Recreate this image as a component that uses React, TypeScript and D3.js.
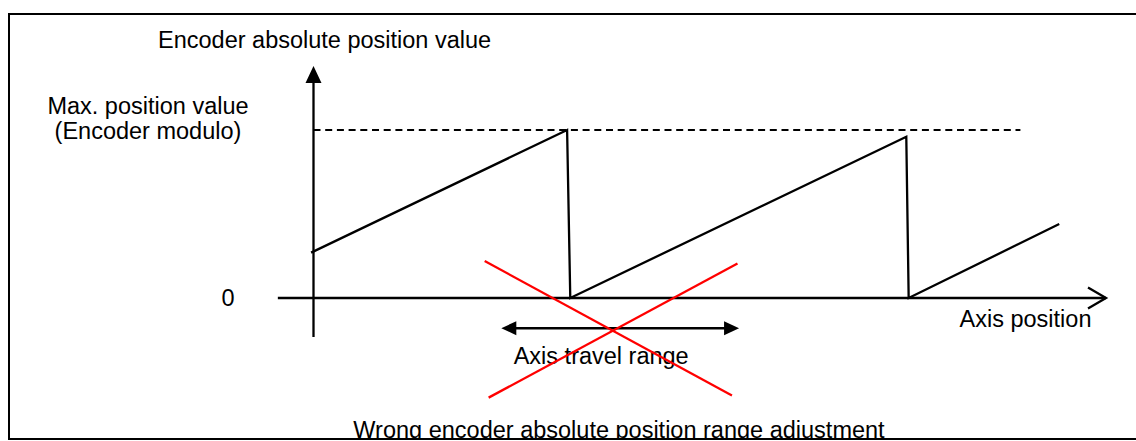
import * as d3 from "d3";

// axis position units (x) and encoder value as fraction of modulo (y)
const sawX = [-3, 320, 324, 748, 751, 941];
const sawY = [0.27, 1.0, 0, 0.96, 0, 0.44];

const maxLineX = [0, 892];
const maxValue = 1;

const xAxisRange = [-45, 1000];
const yAxisRange = [-0.232, 1.381];

const travelRange = [237, 537];
const travelLevel = -0.18;

const crossA = [
  [216, 0.22],
  [528, -0.58],
];
const crossB = [
  [221, -0.593],
  [535, 0.206],
];

const TEXTS = {
  yTitle: "Encoder absolute position value",
  maxLine1: "Max. position value",
  maxLine2: "(Encoder modulo)",
  zero: "0",
  xTitle: "Axis position",
  travel: "Axis travel range",
  caption: "Wrong encoder absolute position range adjustment",
};

const W = 1136;
const H = 441;
const FONT = "'Liberation Sans', Arial, sans-serif";
const FS = 23.5;
const LW = 2.3;

const ORIGIN = { x: 313.5, y: 298 };

const xScale = d3
  .scaleLinear()
  .domain([0, 1000])
  .range([ORIGIN.x, 1106]);

const yScale = d3
  .scaleLinear()
  .domain([0, 1])
  .range([ORIGIN.y, 130]);

export default function App() {
  const line = d3
    .line<number>()
    .x((d) => xScale(d))
    .y((_, i) => yScale(sawY[i]));
  const sawPath = line(sawX) ?? "";

  const yTop = yScale(yAxisRange[1]);
  const xTip = xScale(xAxisRange[1]);
  const tY = yScale(travelLevel);
  const tx0 = xScale(travelRange[0]);
  const tx1 = xScale(travelRange[1]);

  const headLen = 15;
  const headHalf = 7;

  return (
    <svg
      width={W}
      height={H}
      style={{ position: "absolute", left: 0, top: 0, background: "#fff" }}
      xmlns="http://www.w3.org/2000/svg"
    >
      <rect x={0} y={0} width={W} height={H} fill="#fff" />

      {/* titles */}
      <text x={158} y={48} fontSize={FS} fontFamily={FONT} fill="#000">
        {TEXTS.yTitle}
      </text>
      <text x={148} y={114} fontSize={FS} fontFamily={FONT} textAnchor="middle" fill="#000">
        {TEXTS.maxLine1}
      </text>
      <text x={148} y={139} fontSize={FS} fontFamily={FONT} textAnchor="middle" fill="#000">
        {TEXTS.maxLine2}
      </text>
      <text x={228} y={yScale(0) + 8} fontSize={FS} fontFamily={FONT} textAnchor="middle" fill="#000">
        {TEXTS.zero}
      </text>
      <text x={1025.5} y={327} fontSize={FS} fontFamily={FONT} textAnchor="middle" fill="#000">
        {TEXTS.xTitle}
      </text>
      <text x={(tx0 + tx1) / 2 - 19} y={364} fontSize={FS} fontFamily={FONT} textAnchor="middle" fill="#000">
        {TEXTS.travel}
      </text>
      <text x={619} y={438} fontSize={FS} fontFamily={FONT} textAnchor="middle" fill="#000">
        {TEXTS.caption}
      </text>

      {/* max value dashed line */}
      <line
        x1={xScale(maxLineX[0])}
        x2={xScale(maxLineX[1])}
        y1={yScale(maxValue)}
        y2={yScale(maxValue)}
        stroke="#000"
        strokeWidth={1.8}
        strokeDasharray="7,4.7"
      />

      {/* y axis */}
      <line
        x1={ORIGIN.x}
        x2={ORIGIN.x}
        y1={yScale(yAxisRange[0])}
        y2={yTop + 14}
        stroke="#000"
        strokeWidth={LW}
      />
      <path
        d={`M${ORIGIN.x},${yTop} L${ORIGIN.x - 8},${yTop + 17} L${ORIGIN.x + 8},${yTop + 17} Z`}
        fill="#000"
      />

      {/* x axis */}
      <line
        x1={xScale(xAxisRange[0])}
        x2={xTip}
        y1={ORIGIN.y}
        y2={ORIGIN.y}
        stroke="#000"
        strokeWidth={LW}
      />
      <path
        d={`M${xTip - 18},${ORIGIN.y - 10.5} L${xTip},${ORIGIN.y} L${xTip - 18},${ORIGIN.y + 10.5}`}
        fill="none"
        stroke="#000"
        strokeWidth={LW}
      />

      {/* sawtooth */}
      <path d={sawPath} fill="none" stroke="#000" strokeWidth={LW} strokeLinejoin="miter" />

      {/* travel range double arrow */}
      <line x1={tx0 + headLen - 1} x2={tx1 - headLen + 1} y1={tY} y2={tY} stroke="#000" strokeWidth={LW} />
      <path
        d={`M${tx0},${tY} L${tx0 + headLen},${tY - headHalf} L${tx0 + headLen},${tY + headHalf} Z`}
        fill="#000"
      />
      <path
        d={`M${tx1},${tY} L${tx1 - headLen},${tY - headHalf} L${tx1 - headLen},${tY + headHalf} Z`}
        fill="#000"
      />

      {/* red cross */}
      {[crossA, crossB].map((seg, i) => (
        <line
          key={i}
          x1={xScale(seg[0][0])}
          y1={yScale(seg[0][1])}
          x2={xScale(seg[1][0])}
          y2={yScale(seg[1][1])}
          stroke="#ff0000"
          strokeWidth={LW}
        />
      ))}

      {/* frame */}
      <rect x={0} y={440} width={W} height={1} fill="#fff" />
      <path d={`M${W + 5},14 L9,14 L9,439 L${W + 5},439`} fill="none" stroke="#000" strokeWidth={2} />
    </svg>
  );
}
